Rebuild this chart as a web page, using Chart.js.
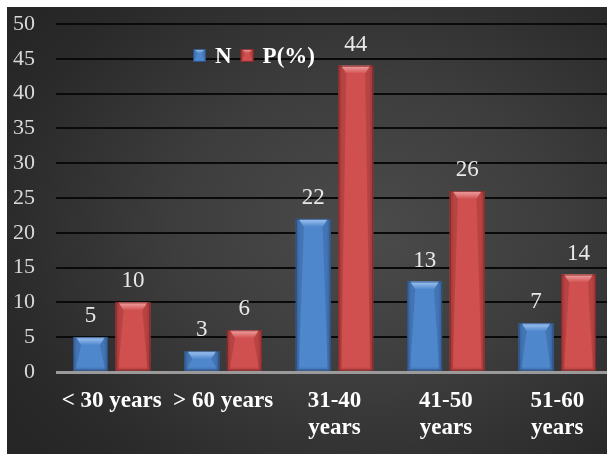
<!DOCTYPE html>
<html>
<head>
<meta charset="utf-8">
<script src="https://cdn.jsdelivr.net/npm/chart.js@4.4.1/dist/chart.umd.min.js"></script>
<style>
  html, body { margin: 0; padding: 0; background: #ffffff; overflow: hidden; width: 607px; height: 454px; }
  #panel {
    position: absolute; left: 7px; top: 7px; width: 620px; height: 447px;
    background: radial-gradient(ellipse 70% 75% at 58% 50%, #4b4b4b 0%, #3d3d3d 45%, #2a2a2a 85%, #262626 100%);
  }
  canvas { display: block; }
</style>
</head>
<body>
<div id="panel"><canvas id="chart" width="620" height="447"></canvas></div>
<script>
// Age groups and their counts / percentages
const categories = ['< 30 years', '> 60 years', ['31-40', 'years'], ['41-50', 'years'], ['51-60', 'years']];
const seriesN = [5, 3, 22, 13, 7];
const seriesP = [10, 6, 44, 26, 14];
const seriesNames = ['N', 'P(%)'];
const yTicks = [0, 5, 10, 15, 20, 25, 30, 35, 40, 45, 50];

const SERIF = "'Liberation Serif', 'Times New Roman', serif";

const palettes = [
  { body: '#4f87cc', edge: '#3a69a6', hi: '#a3c8f4', dark: '#2e5286', line: '#2a4a78' },
  { body: '#d04f4f', edge: '#a83b3b', hi: '#f2a5a5', dark: '#8a2e2e', line: '#7a2626' }
];

// Draws a bevelled block (used for bars and legend swatches)
function bevelBlock(ctx, left, top, right, bottom, pal, bevel) {
  const w = right - left, h = bottom - top;
  if (w <= 0 || h <= 0) return;
  const b = Math.min(bevel, w / 3, h / 2);
  const s = Math.min(3, w / 8);
  ctx.save();
  // body
  const g = ctx.createLinearGradient(left, 0, right, 0);
  g.addColorStop(0, pal.edge);
  g.addColorStop(0.12, pal.body);
  g.addColorStop(0.88, pal.body);
  g.addColorStop(1, pal.edge);
  ctx.fillStyle = g;
  ctx.fillRect(left, top, w, h);
  // top bevel
  const gt = ctx.createLinearGradient(0, top, 0, top + b);
  gt.addColorStop(0, pal.hi);
  gt.addColorStop(1, pal.body);
  ctx.fillStyle = gt;
  ctx.beginPath();
  ctx.moveTo(left + s, top);
  ctx.lineTo(right - s, top);
  ctx.lineTo(right - b, top + b);
  ctx.lineTo(left + b, top + b);
  ctx.closePath();
  ctx.fill();
  // side bevels
  ctx.globalAlpha = 0.35;
  ctx.fillStyle = pal.dark;
  ctx.beginPath();
  ctx.moveTo(left, top); ctx.lineTo(left + s, top); ctx.lineTo(left + b, top + b);
  ctx.lineTo(left + s, bottom - s); ctx.lineTo(left, bottom); ctx.closePath(); ctx.fill();
  ctx.beginPath();
  ctx.moveTo(right, top); ctx.lineTo(right - s, top); ctx.lineTo(right - b, top + b);
  ctx.lineTo(right - s, bottom - s); ctx.lineTo(right, bottom); ctx.closePath(); ctx.fill();
  // bottom bevel
  ctx.globalAlpha = 0.25;
  ctx.beginPath();
  ctx.moveTo(left, bottom); ctx.lineTo(right, bottom); ctx.lineTo(right - s, bottom - s);
  ctx.lineTo(left + s, bottom - s); ctx.closePath(); ctx.fill();
  // outline
  ctx.globalAlpha = 0.8;
  ctx.strokeStyle = pal.line;
  ctx.lineWidth = 1;
  ctx.strokeRect(left + 0.5, top + 0.5, w - 1, h - 1);
  ctx.restore();
}

const bevelBars = {
  id: 'bevelBars',
  afterDatasetsDraw(chart) {
    const ctx = chart.ctx;
    chart.data.datasets.forEach((ds, di) => {
      const meta = chart.getDatasetMeta(di);
      meta.data.forEach(bar => {
        const p = bar.getProps(['x', 'y', 'base', 'width'], true);
        bevelBlock(ctx, p.x - p.width / 2, p.y, p.x + p.width / 2, p.base, palettes[di], 8);
      });
    });
  }
};

// Value labels above each bar
const valueLabels = {
  id: 'valueLabels',
  afterDatasetsDraw(chart) {
    const ctx = chart.ctx;
    ctx.save();
    ctx.font = '23px ' + SERIF;
    ctx.fillStyle = '#e8e8e8';
    ctx.textAlign = 'center';
    ctx.textBaseline = 'alphabetic';
    chart.data.datasets.forEach((ds, di) => {
      const meta = chart.getDatasetMeta(di);
      meta.data.forEach((bar, i) => {
        ctx.fillText(String(ds.data[i]), bar.x, bar.y - 15);
      });
    });
    ctx.restore();
  }
};

// Legend inside the plot area
const innerLegend = {
  id: 'innerLegend',
  afterDraw(chart) {
    const ctx = chart.ctx;
    ctx.save();
    ctx.font = 'bold 23px ' + SERIF;
    ctx.textBaseline = 'alphabetic';
    ctx.textAlign = 'left';
    let x = 186;
    const boxTop = 42, box = 13, baseline = 56;
    chart.data.datasets.forEach((ds, di) => {
      bevelBlock(ctx, x, boxTop, x + box, boxTop + box, palettes[di], 5);
      x += box + 9;
      ctx.fillStyle = '#ffffff';
      ctx.fillText(ds.label, x, baseline);
      x += ctx.measureText(ds.label).width + 9;
    });
    ctx.restore();
  }
};

new Chart(document.getElementById('chart'), {
  type: 'bar',
  data: {
    labels: categories,
    datasets: [
      { label: seriesNames[0], data: seriesN, backgroundColor: palettes[0].body },
      { label: seriesNames[1], data: seriesP, backgroundColor: palettes[1].body }
    ]
  },
  options: {
    responsive: false,
    animation: false,
    devicePixelRatio: 1,
    categoryPercentage: 0.763,
    barPercentage: 0.82,
    layout: { autoPadding: false, padding: { left: 0, right: 14, top: 17, bottom: 0 } },
    plugins: {
      legend: { display: false },
      tooltip: { enabled: false }
    },
    scales: {
      x: {
        grid: { display: false },
        border: { display: false },
        ticks: {
          color: '#ffffff',
          font: { family: SERIF, size: 23, weight: 'bold', lineHeight: 1.2 },
          autoSkip: false,
          maxRotation: 0,
          minRotation: 0,
          padding: 7
        },
        afterFit(scale) { scale.height = 82; scale.paddingLeft = 0; scale.paddingRight = 0; }
      },
      y: {
        min: 0,
        max: 50,
        border: { display: false },
        afterBuildTicks(scale) { scale.ticks = yTicks.map(v => ({ value: v })); },
        grid: {
          drawTicks: false,
          color: c => (c.tick && c.tick.value === 0) ? '#9a9a9a' : '#0a0a0a',
          lineWidth: c => (c.tick && c.tick.value === 0) ? 3 : 2
        },
        ticks: {
          color: '#d9d9d9',
          font: { family: SERIF, size: 22 },
          padding: 21
        },
        afterFit(scale) { scale.width = 49; scale.paddingTop = 0; scale.paddingBottom = 0; }
      }
    }
  },
  plugins: [bevelBars, valueLabels, innerLegend]
});
</script>
</body>
</html>
